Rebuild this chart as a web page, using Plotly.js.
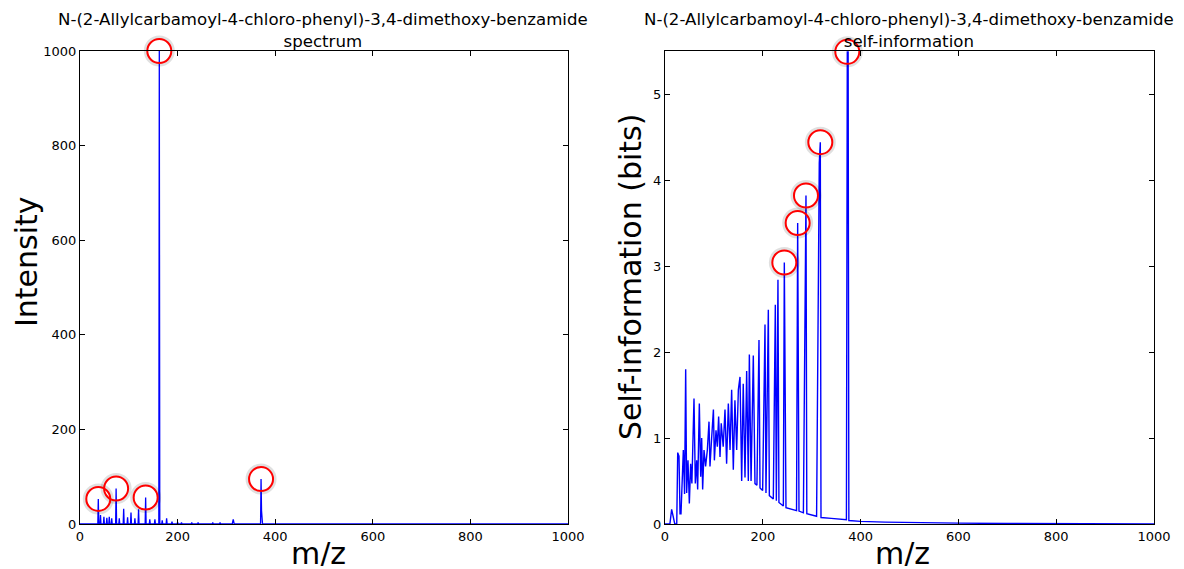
<!DOCTYPE html>
<html>
<head>
<meta charset="utf-8">
<script src="https://cdn.plot.ly/plotly-3.0.1.min.js"></script>
<style>html,body{margin:0;padding:0;background:#fff;}#chart{width:1184px;height:569px;}</style>
</head>
<body>
<div id="chart"></div>
<script>
// ---- Spectrum (left panel) ----
const specMz = [0,
  36.5, 37.5, 38.5,  41, 42, 43,  48, 49, 50,  54, 55, 56,  59, 60, 61,  64, 65, 66,
  73, 74, 75,  79.5, 80.5, 81.5,  88.5, 89.5, 90.5,  96.5, 97.5, 98.5,  103.5, 104.5, 105.5,
  111.5, 112.5, 113.5,  119, 120, 121,  133.5, 134.5, 135.5,  142, 143, 144,  152.5, 153.5, 154.5,
  161.5, 162.5, 163.5,  167.5, 168.5, 169.5,  176.5, 177.5, 178.5,  187.5, 188.5, 189.5,
  199, 200, 201,  207, 208, 209,  228, 229, 230,  241, 242, 243,  271, 272, 273,  286, 287, 288,
  312, 314, 316,
  370, 371, 372, 373, 374, 375,
  1000];
const specInt = [0,
  0, 53, 0,  0, 19, 0,  0, 15, 0,  0, 13, 0,  0, 15, 0,  0, 12, 0,
  0, 75, 0,  0, 12, 0,  0, 32, 0,  0, 14, 0,  0, 24, 0,
  0, 12, 0,  0, 31, 0,  0, 56, 0,  0, 10, 0,  0, 10, 0,
  0, 1000, 0,  0, 8, 0,  0, 12, 0,  0, 5, 0,
  0, 4, 0,  0, 3, 0,  0, 3, 0,  0, 3, 0,  0, 3, 0,  0, 3, 0,
  0, 10, 0,
  0, 95, 28, 8, 0, 0,
  0];
const specCircMz  = [37.5, 74, 134.5, 162.5, 371];
const specCircInt = [53, 75, 56, 1000, 95];

// ---- Self-information (right panel) ----
const selfMz = [0, 10, 13.6, 17, 20, 24, 26, 28.6, 30.7, 32.7, 35, 37.5, 40, 42.3, 44.3, 47, 49.8,
  52.5, 55, 59.3, 62, 64.8, 66.8, 70.2, 73, 75, 77, 79.8, 83, 86.6, 90, 92, 95.4, 99, 101,
  104.3, 107, 109.7, 112.5, 115, 119, 122.7, 126, 129.5, 133, 136.3, 139.7, 143, 146.6, 150,
  153.4, 156.8, 160, 163.6, 167, 170.4, 172.5, 176, 180.6, 184, 188, 192.2, 194.3, 199.7,
  204.5, 206.5, 211.3, 213.4, 221.5, 225.6, 227.7, 231, 233, 242, 244, 247.4, 269, 271.3,
  274, 283, 288.3, 290, 310, 315.5, 317.6, 319, 340, 360, 371, 372.8, 374.5, 376, 400, 450,
  500, 600, 700, 800, 900, 1000];
const selfBits = [0, 0, 0.17, 0.08, 0, 0, 0.83, 0.79, 0.12, 0.12, 0.55, 0.86, 0.35, 1.80, 0.36, 0.74, 0.24,
  0.70, 0.47, 1.46, 0.47, 0.74, 0.40, 1.40, 0.55, 1.00, 0.40, 0.86, 0.67, 0.86, 1.19, 0.67, 1.00, 1.33, 0.74,
  1.09, 0.90, 1.25, 0.78, 1.17, 0.90, 1.33, 0.70, 1.40, 0.86, 1.56, 0.63, 1.44, 0.86, 1.56,
  1.71, 0.50, 1.63, 0.54, 1.78, 0.50, 1.97, 0.50, 1.96, 0.47, 0.45, 2.14, 0.42, 0.39,
  2.32, 0.36, 2.49, 0.33, 0.29, 2.55, 0.27, 2.84, 0.25, 0.21, 3.04, 0.19, 0.155, 3.50,
  0.15, 0.13, 3.82, 0.12, 0.09, 4.20, 4.44, 0.075, 0.065, 0.055, 0.05, 5.49, 5.49, 0.04, 0.03, 0.022,
  0.016, 0.010, 0.006, 0.004, 0.002, 0.001];
const selfCircMz   = [244, 271.3, 288.3, 317.6, 372.8];
const selfCircBits = [3.04, 3.50, 3.82, 4.44, 5.49];

const titleLine1 = "N-(2-Allylcarbamoyl-4-chloro-phenyl)-3,4-dimethoxy-benzamide";
const xTicks = [0, 200, 400, 600, 800, 1000];
const yTicksLeft = [0, 200, 400, 600, 800, 1000];
const yTicksRight = [0, 1, 2, 3, 4, 5];

const W = 1184, H = 569;
const FONT = "DejaVu Sans";
const blue = "#0000ff", red = "#ff0000";

function circleTraces(x, y, xa, ya) {
  return [
    {x: x, y: y, xaxis: xa, yaxis: ya, type: "scatter", mode: "markers", cliponaxis: false,
     marker: {symbol: "circle-open", size: 27, color: "rgba(0,0,0,0.12)", line: {width: 4, color: "rgba(0,0,0,0.12)"}},
     hoverinfo: "skip", showlegend: false},
    {x: x, y: y, xaxis: xa, yaxis: ya, type: "scatter", mode: "markers", cliponaxis: false,
     marker: {symbol: "circle-open", size: 24, color: red, line: {width: 2, color: red}},
     showlegend: false}
  ];
}

const data = [
  {x: specMz, y: specInt, xaxis: "x", yaxis: "y", type: "scatter", mode: "lines",
   line: {color: blue, width: 1.3}, showlegend: false},
  ...circleTraces(specCircMz, specCircInt, "x", "y"),
  {x: selfMz, y: selfBits, xaxis: "x2", yaxis: "y2", type: "scatter", mode: "lines",
   line: {color: blue, width: 1.4}, showlegend: false},
  ...circleTraces(selfCircMz, selfCircBits, "x2", "y2")
];

const axBase = {
  showline: true, linecolor: "#000", linewidth: 1, mirror: "ticks",
  ticks: "inside", ticklen: 5, tickwidth: 1, tickcolor: "#000",
  showgrid: false, zeroline: false,
  tickfont: {family: FONT, size: 13, color: "#000"}
};
const yb = [1 - 524 / H, 1 - 51 / H];

function label(text, xpx, ypx, angle, h) {
  const a = {text: text, xref: "paper", yref: "paper", x: xpx / W, y: 1 - ypx / H,
    xanchor: "center", yanchor: "middle", showarrow: false, textangle: angle,
    font: {family: FONT, size: 30, color: "#000"}};
  if (h) a.height = h;
  return a;
}

const layout = {
  width: W, height: H,
  margin: {l: 0, r: 0, t: 0, b: 0},
  paper_bgcolor: "#fff", plot_bgcolor: "#fff",
  font: {family: FONT, color: "#000"},
  xaxis: Object.assign({}, axBase, {domain: [80 / W, 568 / W], range: [0, 1000], tickvals: xTicks, anchor: "y"}),
  yaxis: Object.assign({}, axBase, {domain: yb, range: [0, 1000], tickvals: yTicksLeft, anchor: "x"}),
  xaxis2: Object.assign({}, axBase, {domain: [665 / W, 1154 / W], range: [0, 1000], tickvals: xTicks, anchor: "y2"}),
  yaxis2: Object.assign({}, axBase, {domain: yb, range: [0, 5.5], tickvals: yTicksRight, anchor: "x2"}),
  annotations: [
    {text: titleLine1 + "<br>spectrum", xref: "paper", yref: "paper", x: 323 / W, y: 1 - 8 / H,
     xanchor: "center", yanchor: "top", showarrow: false, font: {family: FONT, size: 16.6, color: "#000"}},
    {text: titleLine1 + "<br>self-information", xref: "paper", yref: "paper", x: 909 / W, y: 1 - 8 / H,
     xanchor: "center", yanchor: "top", showarrow: false, font: {family: FONT, size: 16.6, color: "#000"}},
    label("m/z", 318, 553, 0, 26),
    label("m/z", 902, 553, 0, 26),
    label("Intensity", 26, 262, -90),
    label("Self-information (bits)", 631, 277, -90)
  ]
};

Plotly.newPlot("chart", data, layout, {displayModeBar: false, staticPlot: true});
</script>
</body>
</html>
